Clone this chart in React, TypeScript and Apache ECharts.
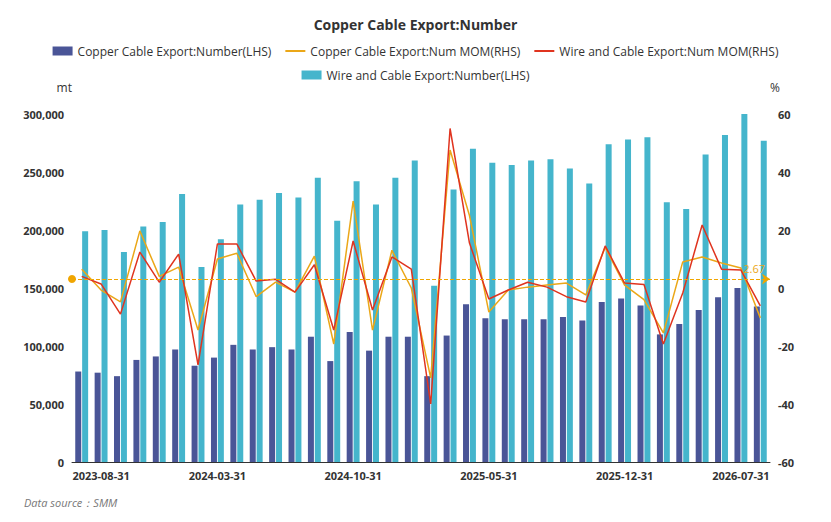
import React, { useEffect, useRef } from "react";
import * as echarts from "echarts";

// categories (monthly, labels shown at a few indices)
const dates: string[] = [
  "2023-07-31", "2023-08-31", "2023-09-30", "2023-10-31", "2023-11-30", "2023-12-31",
  "2024-01-31", "2024-03-31", "2024-04-30", "2024-05-31", "2024-06-30", "2024-07-31",
  "2024-08-31", "2024-09-30", "2024-10-31", "2024-11-30", "2024-12-31", "2025-01-31",
  "2025-02-28", "2025-03-31", "2025-04-30", "2025-05-31", "2025-06-30", "2025-07-31",
  "2025-08-31", "2025-09-30", "2025-10-31", "2025-11-30", "2025-12-31", "2026-01-31",
  "2026-02-28", "2026-03-31", "2026-04-30", "2026-05-31", "2026-07-31", "2026-08-31",
];
const shownLabels = [1, 7, 14, 21, 28, 34];

const copperNumber = [
  78, 77, 74, 88, 91, 97, 83, 90, 101, 97, 99, 97, 108, 87, 112, 96, 108, 108,
  74, 109, 136, 124, 123, 123, 123, 125, 122, 138, 141, 135, 110, 119, 131, 142, 150, 134,
].map((v) => v * 1000);
const wireNumber = [
  199, 200, 181, 203, 207, 231, 168, 192, 222, 226, 232, 228, 245, 208, 242, 222, 245, 260,
  152, 235, 270, 258, 256, 260, 261, 253, 240, 274, 278, 280, 224, 218, 265, 282, 300, 277,
].map((v) => v * 1000);
const copperMom = [
  6.5, -0.7, -4.8, 19.7, 4, 7.2, -14.5, 10, 12, -3, 2, -1.4, 11, -19.3, 30, -14.5, 13, 0,
  -31, 47.6, 25, -8.3, -0.7, 0.3, 1, 1.7, -2.4, 14, 1, -4, -15.5, 9, 10.7, 8.6, 6.9, -10.3,
];
const wireMom = [
  4, 1.4, -9, 12.4, 2, 11.7, -26.5, 15.2, 15.2, 2.4, 3, -1.4, 8, -14.5, 16.2, -7.6, 10.7, 6.5,
  -40, 55, 15.5, -3.8, -0.7, 2, 0.3, -3, -4.8, 14.5, 1.7, 1.2, -19.3, -1.7, 21.7, 6.5, 6.2, -6.2,
];

const lineIcon = "path://M0,0H20V2H0Z";

const App: React.FC = () => {
  const chartRef = useRef<HTMLDivElement | null>(null);

  useEffect(() => {
    if (!chartRef.current) return;
    const myChart = echarts.init(chartRef.current, undefined, { renderer: "svg" });

    const font = "'Open Sans', 'Noto Sans', sans-serif";
    const legendBase = {
      left: "center",
      itemGap: 14,
      itemWidth: 20,
      itemHeight: 9,
      textStyle: { fontSize: 12, color: "#333" },
    };
    const option: echarts.EChartsOption = {
      animation: false,
      textStyle: { fontFamily: font },
      title: {
        text: "Copper Cable Export:Number",
        left: "center",
        top: 4,
        textStyle: { fontSize: 14, fontWeight: "bold", color: "#333" },
      },
      legend: [
        {
          ...legendBase,
          top: 32,
          data: [
            { name: "Copper Cable Export:Number(LHS)", icon: "rect" },
            { name: "Copper Cable Export:Num MOM(RHS)", icon: lineIcon },
            { name: "Wire and Cable Export:Num MOM(RHS)", icon: lineIcon },
          ],
        },
        {
          ...legendBase,
          top: 56,
          data: [{ name: "Wire and Cable Export:Number(LHS)", icon: "rect" }],
        },
      ],
      grid: { left: 64, right: 53, top: 106, bottom: 52 },
      xAxis: {
        type: "category",
        data: dates,
        axisTick: { show: false },
        axisLine: { lineStyle: { color: "#333" } },
        axisLabel: {
          interval: (i: number) => shownLabels.includes(i),
          color: "#333",
          fontSize: 11,
          fontWeight: "bold",
        },
      },
      yAxis: [
        {
          type: "value",
          name: "mt",
          min: 0,
          max: 300000,
          interval: 50000,
          nameTextStyle: { color: "#333", align: "right", padding: [0, 0, 6, 0] },
          splitLine: { show: false },
          axisLabel: {
            color: "#333",
            fontSize: 11,
            fontWeight: "bold",
            formatter: (v: number) => v.toLocaleString("en-US"),
          },
        },
        {
          type: "value",
          name: "%",
          min: -60,
          max: 60,
          interval: 20,
          nameTextStyle: { color: "#333", align: "left", padding: [0, 0, 6, 0] },
          splitLine: { show: false },
          axisLabel: { color: "#333", fontSize: 11, fontWeight: "bold" },
        },
      ],
      series: [
        {
          name: "Copper Cable Export:Number(LHS)",
          type: "bar",
          data: copperNumber,
          itemStyle: { color: "#4a5597" },
          barWidth: 6,
          barGap: "15%",
        },
        {
          name: "Wire and Cable Export:Number(LHS)",
          type: "bar",
          data: wireNumber,
          itemStyle: { color: "#45b5cc" },
          barWidth: 6,
          barGap: "15%",
        },
        {
          name: "Copper Cable Export:Num MOM(RHS)",
          type: "line",
          yAxisIndex: 1,
          data: copperMom,
          symbol: "none",
          itemStyle: { color: "#eba718" },
          lineStyle: { width: 1.5 },
          markLine: {
            symbol: ["circle", "arrow"],
            symbolSize: 8,
            silent: true,
            lineStyle: { type: "dashed", color: "#f0a500", width: 1, opacity: 1 },
            label: { position: "insideEndTop", formatter: "2.67", color: "#eba718", fontSize: 11 },
            data: [{ type: "average", name: "avg" }],
          },
        },
        {
          name: "Wire and Cable Export:Num MOM(RHS)",
          type: "line",
          yAxisIndex: 1,
          data: wireMom,
          symbol: "none",
          itemStyle: { color: "#e0341f" },
          lineStyle: { width: 1.5 },
        },
      ],
      graphic: [
        {
          type: "text",
          left: 16,
          bottom: 6,
          style: { text: "Data source：SMM", fill: "#777", font: `italic 11px ${font}` },
        },
      ],
    };

    myChart.setOption(option);
    return () => {
      myChart.dispose();
    };
  }, []);

  return <div ref={chartRef} style={{ width: "815px", height: "506px" }} />;
};

export default App;
